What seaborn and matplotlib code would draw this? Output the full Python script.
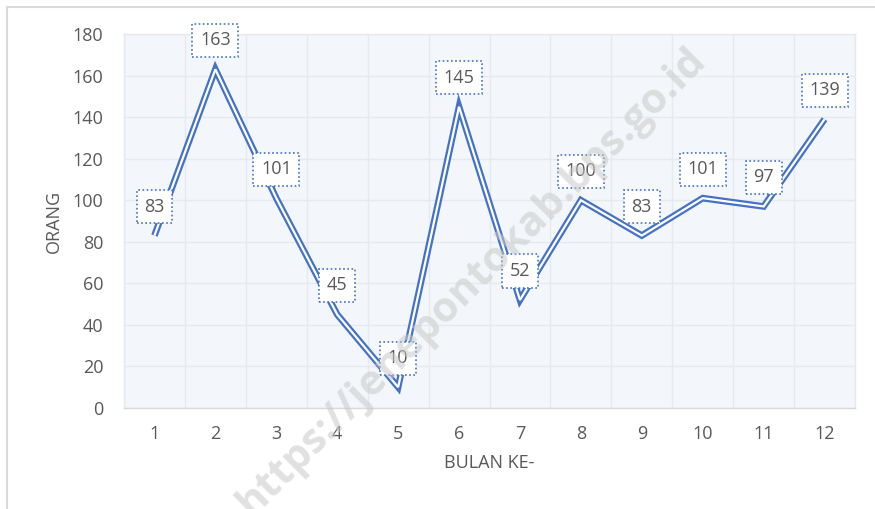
import numpy as np
import pandas as pd
import matplotlib.pyplot as plt
import seaborn as sns

# data
bulan = list(range(1, 13))
orang = [83, 163, 101, 45, 10, 145, 52, 100, 83, 101, 97, 139]
y_ticks = [0, 20, 40, 60, 80, 100, 120, 140, 160, 180]

df = pd.DataFrame({"bulan": bulan, "orang": orang})

sns.set_style("white")
plt.rcParams["font.family"] = ["Open Sans", "DejaVu Sans"]

biru = "#4472C4"
abu = "#595959"

fig = plt.figure(figsize=(8.75, 5.09), dpi=100)
ax = fig.add_axes([124 / 875, 1 - 408 / 509, 731 / 875, 374 / 509])
ax.set_facecolor("#F3F7FB")

# garis ganda: biru tebal + putih tipis di tengah
sns.lineplot(data=df, x="bulan", y="orang", color=biru, lw=4.8, ax=ax,
             solid_joinstyle="miter", solid_capstyle="butt", zorder=3)
sns.lineplot(data=df, x="bulan", y="orang", color="white", lw=1.6, ax=ax,
             solid_joinstyle="miter", solid_capstyle="butt", zorder=4)

# label data dalam kotak bertitik
for b, o in zip(bulan, orang):
    ax.annotate(str(o), (b, o), xytext=(0, 29), textcoords="offset pixels",
                ha="center", va="center", fontsize=13, color=abu, zorder=6,
                bbox=dict(boxstyle="square,pad=0.42", fc="white", ec=biru,
                          ls=(0, (1, 1.5)), lw=1.2))

ax.set_xlim(0.5, 12.5)
ax.set_ylim(0, 180)
ax.set_xticks(bulan)
ax.set_xticks(np.arange(0.5, 13, 1), minor=True)
ax.set_yticks(y_ticks)
ax.grid(True, which="minor", axis="x", color="#E6EAEE", lw=1)
ax.grid(True, which="major", axis="y", color="#E6EAEE", lw=1)
ax.set_axisbelow(True)
ax.tick_params(axis="both", which="both", length=0, labelsize=13, labelcolor=abu)
ax.tick_params(axis="x", pad=12)
ax.tick_params(axis="y", pad=15)
for s in ax.spines.values():
    s.set_color("#E6EAEE")
    s.set_linewidth(1)
ax.spines["bottom"].set_color("#D9D9D9")

ax.set_xlabel("BULAN KE-", fontsize=13, color=abu, labelpad=8)
ax.set_ylabel("ORANG", fontsize=13, color=abu, labelpad=7)

# bingkai grafik
fig.add_artist(plt.Line2D([7 / 875, 1], [1 - 7 / 509, 1 - 7 / 509], color="#D9D9D9", lw=1.5))
fig.add_artist(plt.Line2D([7 / 875, 7 / 875], [0, 1 - 7 / 509], color="#D9D9D9", lw=1.5))

# watermark
fig.text(472 / 875, 1 - 282 / 509, "https://jenepontokab.bps.go.id", rotation=45,
         ha="center", va="center", fontsize=30, fontweight="bold",
         color="#C8C8C8", alpha=0.55, zorder=10)

plt.savefig("out.png", dpi=100)
plt.close()
